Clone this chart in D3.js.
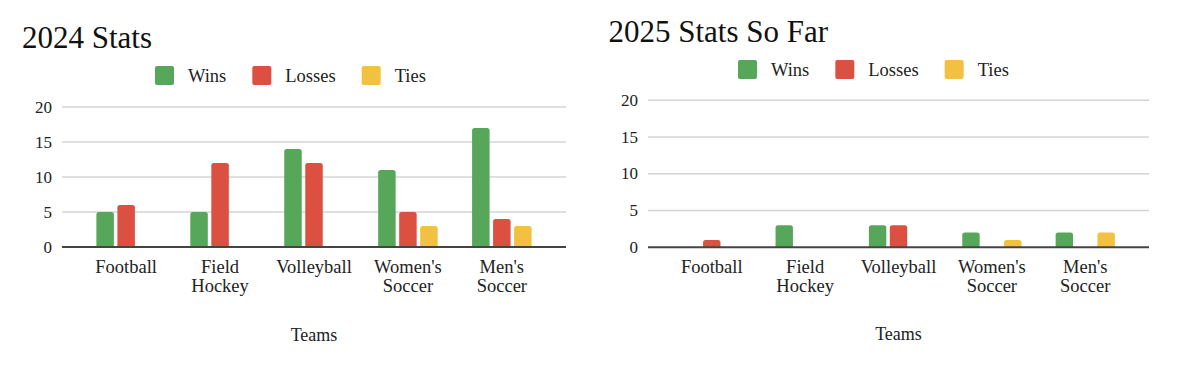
<!DOCTYPE html>
<html>
<head>
<meta charset="utf-8">
<script src="https://cdn.jsdelivr.net/npm/d3@7"></script>
<style>
  html, body { margin: 0; padding: 0; background: #fff; }
  svg { display: block; font-family: "Liberation Serif", "Times New Roman", serif; }
</style>
</head>
<body>
<svg id="chart" width="1200" height="369"></svg>
<script>
var teams       = ["Football", "Field Hockey", "Volleyball", "Women's Soccer", "Men's Soccer"]
  , seriesNames = ["Wins", "Losses", "Ties"]
  , colors      = ["#57a75b", "#db5040", "#f2c142"]
  , yTicks      = [0, 5, 10, 15, 20];

var wins2024   = [5, 5, 14, 11, 17]
  , losses2024 = [6, 12, 12, 5, 4]
  , ties2024   = [0, 0, 0, 3, 3];

var wins2025   = [0, 3, 3, 2, 2]
  , losses2025 = [1, 0, 3, 0, 0]
  , ties2025   = [0, 0, 0, 1, 2];

var svg = d3.select('#chart');

// bar with rounded top corners only
function barPath (x, y, w, h, r) {
  r = Math.min(r, h, w / 2);
  return 'M' + x + ',' + (y + h)
    + 'V' + (y + r)
    + 'Q' + x + ',' + y + ' ' + (x + r) + ',' + y
    + 'H' + (x + w - r)
    + 'Q' + (x + w) + ',' + y + ' ' + (x + w) + ',' + (y + r)
    + 'V' + (y + h) + 'Z';
}

function drawChart (opts) {

  var g = svg.append('g')
    , series = opts.series
    , rows = teams.map(function (t, i) {
        return { team: t, values: series.map(function (s, k) { return { key: seriesNames[k], value: s[i], k: k }; }) };
      })
    , x0 = d3.scaleBand().domain(teams).range([opts.left, opts.right]).padding(0.366)
    , x1 = d3.scaleBand().domain(seriesNames).range([0, x0.bandwidth()]).paddingInner(0.167)
    , y = d3.scaleLinear().domain([0, 20]).range([opts.bottom, opts.top]);

  // title
  g.append('text')
    .attr('x', opts.titleX)
    .attr('y', opts.titleY)
    .attr('font-size', 31)
    .attr('fill', '#111')
    .text(opts.title);

  // legend
  var lx = opts.legendX;
  seriesNames.forEach(function (name, k) {
    g.append('rect')
      .attr('x', lx).attr('y', opts.legendY - 9.5)
      .attr('width', 19).attr('height', 19)
      .attr('rx', 2)
      .attr('fill', colors[k]);
    var t = g.append('text')
      .attr('x', lx + 33)
      .attr('y', opts.legendY + 6)
      .attr('font-size', 18.5)
      .attr('fill', '#222')
      .text(name);
    lx += 33 + t.node().getComputedTextLength() + 26;
  });

  // gridlines + y labels
  g.selectAll('.grid')
    .data(yTicks.filter(function (d) { return d > 0; }))
    .enter().append('line')
      .attr('x1', opts.left).attr('x2', opts.right)
      .attr('y1', function (d) { return y(d); })
      .attr('y2', function (d) { return y(d); })
      .attr('stroke', '#d4d4d4')
      .attr('stroke-width', 1.5);

  g.selectAll('.ylab')
    .data(yTicks)
    .enter().append('text')
      .attr('x', opts.left - 10)
      .attr('y', function (d) { return y(d) + 5.5; })
      .attr('text-anchor', 'end')
      .attr('font-size', 17)
      .attr('fill', '#222')
      .text(function (d) { return d; });

  // bars
  var groups = g.selectAll('.group')
    .data(rows)
    .enter().append('g')
      .attr('transform', function (d) { return 'translate(' + x0(d.team) + ',0)'; });

  groups.selectAll('path')
    .data(function (d) { return d.values.filter(function (v) { return v.value > 0; }); })
    .enter().append('path')
      .attr('d', function (v) {
        return barPath(x1(v.key), y(v.value), x1.bandwidth(), y(0) - y(v.value), 2.5);
      })
      .attr('fill', function (v) { return colors[v.k]; });

  // baseline
  g.append('line')
    .attr('x1', opts.left).attr('x2', opts.right)
    .attr('y1', y(0)).attr('y2', y(0))
    .attr('stroke', '#444')
    .attr('stroke-width', 2);

  // category labels (wrapped on spaces)
  g.selectAll('.xlab')
    .data(teams)
    .enter().append('text')
      .attr('text-anchor', 'middle')
      .attr('font-size', 18.5)
      .attr('fill', '#222')
      .each(function (d) {
        var cx = x0(d) + x0.bandwidth() / 2
          , words = d.split(' ')
          , self = d3.select(this);
        words.forEach(function (w, i) {
          self.append('tspan')
            .attr('x', cx)
            .attr('y', opts.bottom + 26 + i * 19)
            .text(w);
        });
      });

  // axis title
  g.append('text')
    .attr('x', (opts.left + opts.right) / 2)
    .attr('y', opts.axisTitleY)
    .attr('text-anchor', 'middle')
    .attr('font-size', 18)
    .attr('fill', '#222')
    .text('Teams');
}

drawChart({
  title: '2024 Stats', titleX: 22, titleY: 47.5,
  legendX: 155, legendY: 75.5,
  left: 62, right: 566, top: 107, bottom: 247,
  axisTitleY: 341,
  series: [wins2024, losses2024, ties2024]
});

drawChart({
  title: '2025 Stats So Far', titleX: 608.5, titleY: 41.5,
  legendX: 738, legendY: 69.5,
  left: 648, right: 1149, top: 100.3, bottom: 247.3,
  axisTitleY: 340,
  series: [wins2025, losses2025, ties2025]
});
</script>
</body>
</html>
